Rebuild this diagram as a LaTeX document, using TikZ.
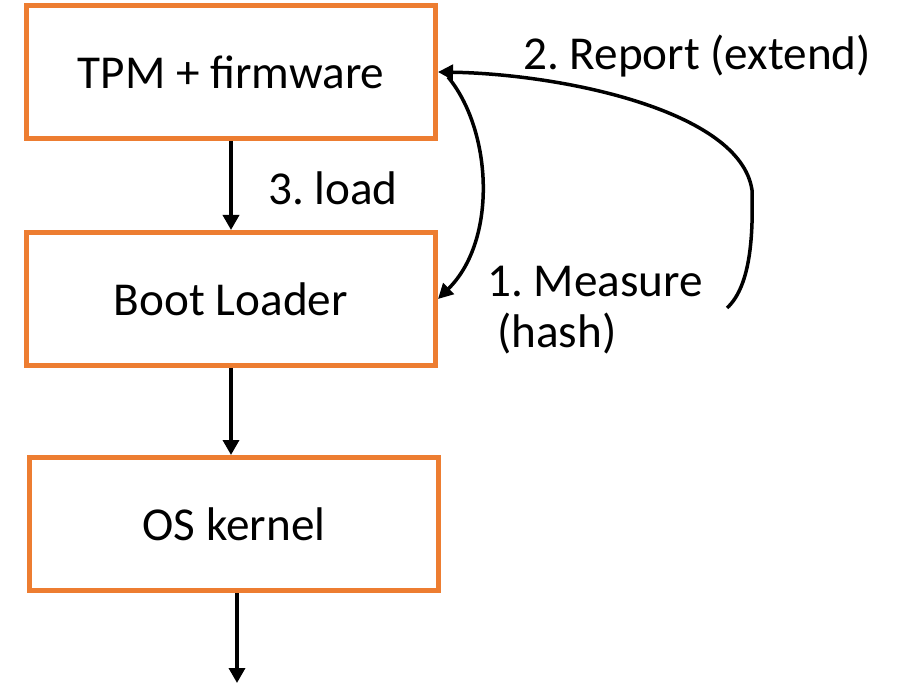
\documentclass[tikz,border=0pt]{standalone}
\usepackage{fontspec}
\setmainfont{Carlito}
\usetikzlibrary{arrows.meta}
\definecolor{boxorange}{HTML}{ED7D31}
\begin{document}
\begin{tikzpicture}[x=1pt,y=-1pt,
  stage/.style={draw=boxorange, line width=5pt, minimum width=409pt,
    minimum height=133pt, inner sep=0pt,
    font=\fontsize{47.2}{56}\selectfont\frenchspacing},
  flow/.style={line width=3.5pt, -{Triangle[length=15pt,width=16pt]}},
  loopline/.style={line width=3.5pt, -{Triangle[length=15pt,width=15pt]}},
  lbl/.style={anchor=base west, inner sep=0pt,
    font=\fontsize{47.2}{56}\selectfont\frenchspacing}]
\useasboundingbox (0,0) rectangle (897,692);

% boot chain
\node[stage] (tpm)  at (231,72)  {TPM + firmware};
\node[stage] (boot) at (231,299) {Boot Loader};
\node[stage] (os)   at (234,524) {OS kernel};

\coordinate (osout) at (237,683);
\draw[flow] (tpm.south) -- (boot.north);
\draw[flow] (boot.south) -- (boot.south |- os.north);
\draw[flow] ([xshift=3pt]os.south) -- (osout);

% measurement and report loop
\coordinate (mstart) at (448,77);
\coordinate (rstart) at (727,308);
\coordinate (rbend)  at (752,190);
\draw[loopline] (mstart) .. controls (492,130) and (498,240) .. (boot.east);
\draw[loopline] (rstart) .. controls (752,285) and (753,230) .. (rbend)
  .. controls (740,110) and (560,74) .. (tpm.east);

% labels
\node[lbl] (lload)    at (268,205) {3. load};
\node[lbl] (lreport)  at (523,70)  {2. Report (extend)};
\node[lbl] (lmeasure) at (487,297) {1. Measure};
\node[lbl] (lhash)    at (497,348) {(hash)};
\end{tikzpicture}
\end{document}
